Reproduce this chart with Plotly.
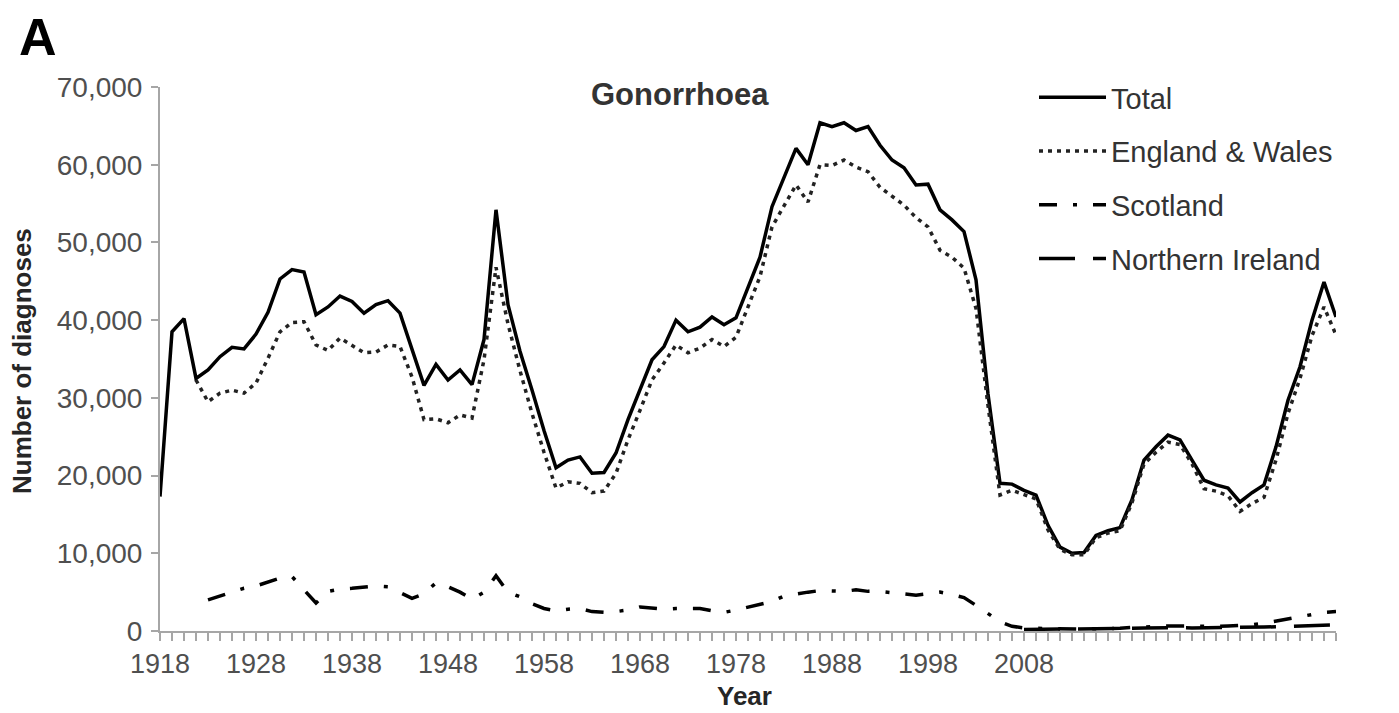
import plotly.graph_objects as go

# ---------------- data ----------------
years = list(range(1918, 2017))

total = [17300, 38500, 40200, 32500, 33600, 35300, 36500, 36300, 38200, 41000,
         45300, 46500, 46200, 40700, 41700, 43100, 42400, 40900, 42000, 42500,
         40900, 36200, 31600, 34300, 32300, 33600, 31700, 37500, 54200, 42000,
         36000, 31000, 25800, 21000, 22000, 22400, 20300, 20400, 22900, 27200,
         31000, 34900, 36600, 40000, 38500, 39100, 40400, 39400, 40300, 44300,
         48100, 54600, 58400, 62100, 60000, 65400, 64900, 65400, 64400, 64900,
         62500, 60600, 59600, 57400, 57500, 54200, 52900, 51400, 45200, 30500,
         19000, 18900, 18100, 17500, 13600, 10800, 10000, 10100, 12300, 12900,
         13300, 16900, 22000, 23700, 25200, 24600, 22000, 19400, 18800, 18400,
         16600, 17800, 18800, 23700, 29700, 34000, 40000, 44900, 40400]

england_wales = [None, None, None, 32300, 29500, 30600, 31000, 30600, 31900, 35100,
                 38500, 39700, 39800, 36800, 36100, 37700, 36800, 35800, 35900, 36800,
                 36600, 32700, 27200, 27300, 26800, 27800, 27400, 34900, 46800, 39500,
                 33500, 28000, 23000, 18400, 19200, 19000, 17800, 18000, 20300, 24600,
                 28400, 32300, 34500, 36800, 35800, 36400, 37500, 36600, 37800, 41700,
                 45600, 52000, 54600, 57400, 55200, 60000, 59900, 60600, 59700, 59100,
                 57100, 55900, 54800, 53200, 52000, 49000, 48100, 46700, 41500, 29000,
                 17500, 18100, 17500, 17000, 13000, 10500, 9800, 9800, 12000, 12600,
                 12900, 16500, 21500, 23000, 24300, 24000, 21500, 18300, 18000, 17400,
                 15400, 16400, 17200, 22000, 28000, 32500, 38000, 41700, 38100]

scotland = [None, None, None, None, 4000, 4500, 5100, 5500, 5800, 6300,
            6800, 7000, 5300, 3600, 5100, 5400, 5500, 5600, 5800, 5700,
            5000, 4200, 4800, 6200, 5700, 5000, 4100, 5000, 7100, 5000,
            4400, 3500, 2900, 2600, 2800, 2900, 2500, 2400, 2500, 2700,
            3100, 3000, 2800, 2900, 2900, 2900, 2600, 2400, 2700, 3100,
            3400, 3800, 4500, 4800, 5000, 5200, 5100, 5100, 5300, 5100,
            5100, 4900, 4800, 4600, 4800, 5000, 4700, 4300, 3300, 2200,
            1200, 600, 400, 350, 300, 300, 250, 250, 300, 300,
            350, 450, 550, 600, 650, 650, 600, 550, 600, 650,
            700, 800, 1000, 1300, 1600, 1800, 2100, 2400, 2500]

northern_ireland = [None] * 72 + [200, 250, 250, 250, 250, 250, 300, 300,
                                  300, 350, 400, 450, 450, 450, 400, 400, 400, 450,
                                  450, 500, 500, 550, 600, 650, 700, 750, 800]

tick_years = [1918, 1926, 1934, 1942, 1950, 1958, 1966, 1974, 1982, 1990]
tick_text = ["1918", "1928", "1938", "1948", "1958", "1968", "1978", "1988", "1998", "2008"]
y_ticks = [0, 10000, 20000, 30000, 40000, 50000, 60000, 70000]

# ---------------- layout geometry ----------------
W, H = 1399, 713
L, R, T, B = 160, 63, 87, 82
PW, PH = W - L - R, H - T - B


def px_x(xr):
    return (xr - L) / PW


def px_y(yr):
    return (H - B - yr) / PH


FONT = "Liberation Sans, Arial, sans-serif"
AXIS_GRAY = "#a6a6a6"
TICK_GRAY = "#4f4f4f"

fig = go.Figure()
fig.add_trace(go.Scatter(x=years, y=total, name="Total", mode="lines",
                         line=dict(color="black", width=3.5), legendgroup="a"))
fig.add_trace(go.Scatter(x=years, y=england_wales, name="England & Wales", mode="lines",
                         line=dict(color="#222222", width=3.5, dash="4px,5px"), legendgroup="b"))
fig.add_trace(go.Scatter(x=years, y=scotland, name="Scotland", mode="lines",
                         line=dict(color="black", width=3.5, dash="18px,16px,4px,16px"), legendgroup="c"))
fig.add_trace(go.Scatter(x=years, y=northern_ireland, name="Northern Ireland", mode="lines",
                         line=dict(color="black", width=3.5, dash="36px,18px"), legendgroup="d"))

fig.update_layout(
    width=W, height=H,
    margin=dict(l=L, r=R, t=T, b=B),
    paper_bgcolor="white", plot_bgcolor="white",
    font=dict(family=FONT, color="#404040"),
    showlegend=True,
    legend=dict(x=px_x(1034), y=px_y(72), xanchor="left", yanchor="top",
                font=dict(family=FONT, size=29, color="#333333"),
                itemwidth=67, tracegroupgap=13, bgcolor="rgba(0,0,0,0)",
                traceorder="grouped"),
    xaxis=dict(range=[1918, 2016], showgrid=False, zeroline=False,
               showline=True, linecolor=AXIS_GRAY, linewidth=2,
               tickmode="array", tickvals=tick_years, ticktext=tick_text,
               ticks="outside", ticklen=8, tickwidth=2, tickcolor=AXIS_GRAY,
               tickfont=dict(family=FONT, size=27, color=TICK_GRAY),
               minor=dict(dtick=1, tick0=1918, ticks="outside", ticklen=8,
                          tickwidth=2, tickcolor=AXIS_GRAY, showgrid=False)),
    yaxis=dict(range=[0, 70000], showgrid=False, zeroline=False,
               showline=True, linecolor=AXIS_GRAY, linewidth=2,
               tickmode="array", tickvals=y_ticks,
               ticktext=[f"{v:,}" for v in y_ticks],
               ticks="outside", ticklen=7, tickwidth=2, tickcolor=AXIS_GRAY,
               ticklabelstandoff=3,
               tickfont=dict(family=FONT, size=28, color=TICK_GRAY)),
)

annotations = [
    dict(text="<b>A</b>", x=px_x(38), y=px_y(37), font=dict(size=52, color="black")),
    dict(text="<b>Gonorrhoea</b>", x=px_x(680), y=px_y(95), font=dict(size=31, color="#333333")),
    dict(text="<b>Number of diagnoses</b>", x=px_x(22), y=px_y(361), textangle=-90,
         font=dict(size=26, color="#262626")),
    dict(text="<b>Year</b>", x=px_x(744), y=px_y(696), font=dict(size=26, color="#262626")),
]
for a in annotations:
    a.update(xref="paper", yref="paper", showarrow=False, xanchor="center", yanchor="middle")
    a["font"]["family"] = FONT
fig.update_layout(annotations=annotations)

fig.write_html("out.html", config={"displayModeBar": False},
               post_script="document.body.style.margin='0px';")
